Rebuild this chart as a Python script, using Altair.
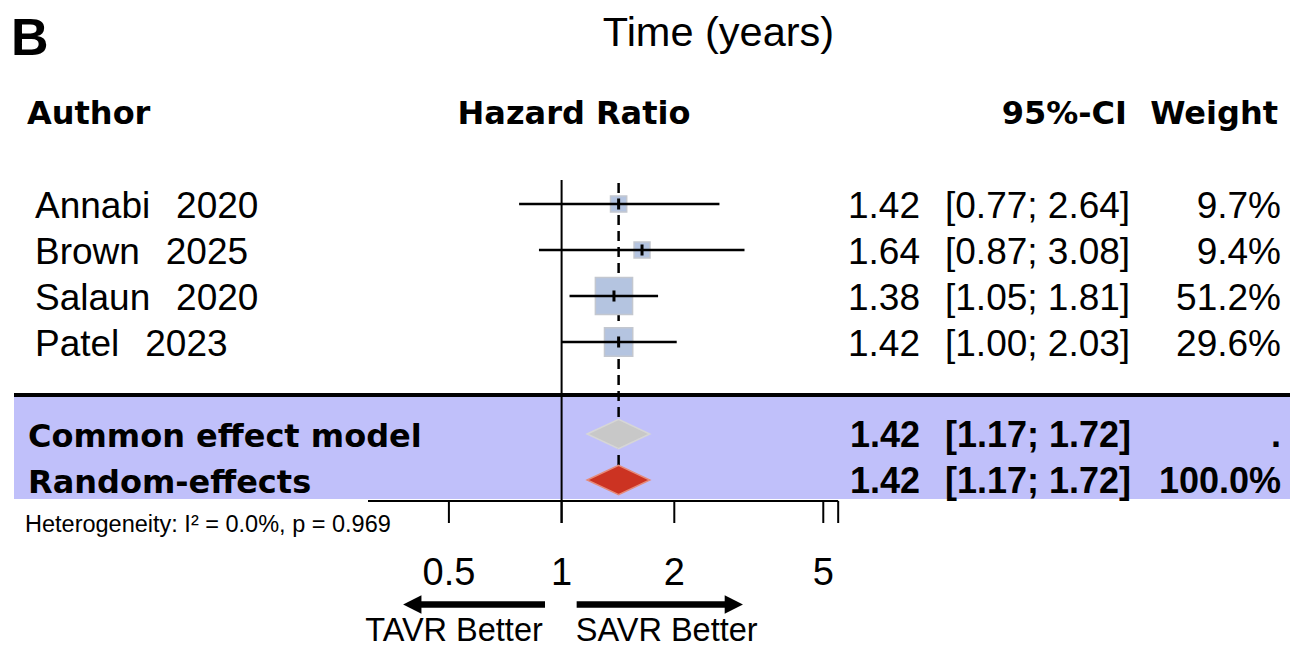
import altair as alt
import pandas as pd

# ---------------- data ----------------
authors = ["Annabi", "Brown", "Salaun", "Patel"]
years = ["2020", "2025", "2020", "2023"]
hr = [1.42, 1.64, 1.38, 1.42]
ci_lo = [0.77, 0.87, 1.05, 1.00]
ci_hi = [2.64, 3.08, 1.81, 2.03]
weights = [9.7, 9.4, 51.2, 29.6]

models = ["Common effect model", "Random-effects"]
model_hr = [1.42, 1.42]
model_lo = [1.17, 1.17]
model_hi = [1.72, 1.72]
model_weight = [".", "100.0%"]
model_fill = ["#c8c8c8", "#cc3322"]
model_stroke = ["#d6d6d6", "#e58a7a"]

tick_values = [0.5, 1, 2, 5]
tick_labels = ["0.5", "1", "2", "5"]
axis_ends = [0.304, 5.48]
heterogeneity = "Heterogeneity: I\u00b2 = 0.0%, p = 0.969"

# ---------------- layout ----------------
W, H = 1282, 640
X0, XS = 553.6, 112.7   # pixel of HR = 1, pixels per doubling
Y0, YS = 196.0, 46.0    # pixel of row 0, pixels per row
FONT = "Liberation Sans"
BOLDFONT = "DejaVu Sans"


def row(page_y):
    return (page_y - 8 - Y0) / YS


xs = alt.Scale(type="log", base=2, nice=False,
               domain=[2 ** (-X0 / XS), 2 ** ((W - X0) / XS)])
ys = alt.Scale(domain=[-Y0 / YS, (H - Y0) / YS], reverse=True, nice=False, zero=False)


def X(f):
    return alt.X(f"{f}:Q", scale=xs, axis=None)


def Y(f):
    return alt.Y(f"{f}:Q", scale=ys, axis=None)


studies = pd.DataFrame({
    "label": [f"{a}\u2002\u2009{y}" for a, y in zip(authors, years)],
    "hr": hr, "lo": ci_lo, "hi": ci_hi, "w": weights,
    "r": [0, 1, 2, 3],
})
studies["rt"] = studies["r"] - 0.12
studies["rb"] = studies["r"] + 0.12
studies["hr_txt"] = [f"{v:.2f}" for v in hr]
studies["ci_txt"] = [f"[{l:.2f}; {h:.2f}]" for l, h in zip(ci_lo, ci_hi)]
studies["w_txt"] = [f"{w:.1f}%" for w in weights]

summary = pd.DataFrame({
    "label": models, "hr": model_hr, "lo": model_lo, "hi": model_hi,
    "w_txt": model_weight, "r": [5, 6],
})
summary["hr_txt"] = [f"{v:.2f}" for v in model_hr]
summary["ci_txt"] = [f"[{l:.2f}; {h:.2f}]" for l, h in zip(model_lo, model_hi)]

layers = []

# shaded band behind pooled estimates
band = pd.DataFrame({"y0": [row(397)], "y1": [row(499)]})
layers.append(alt.Chart(band).mark_rect(color="#c0c0fa").encode(
    x=alt.value(6), x2=alt.value(W), y=Y("y0"), y2="y1"))

# separator line
sep = pd.DataFrame({"r": [row(395)]})
layers.append(alt.Chart(sep).mark_rule(color="black", strokeWidth=4).encode(
    x=alt.value(6), x2=alt.value(W), y=Y("r")))

# dashed summary line
dash = pd.DataFrame({"hr": [model_hr[0]], "a": [row(183)], "b": [row(495)]})
layers.append(alt.Chart(dash).mark_rule(color="black", strokeWidth=2.5, strokeDash=[10, 6]).encode(
    x=X("hr"), y=Y("a"), y2="b"))

# reference line at 1
ref = pd.DataFrame({"hr": [1.0], "a": [row(180)], "b": [row(523)]})
layers.append(alt.Chart(ref).mark_rule(color="black", strokeWidth=2).encode(
    x=X("hr"), y=Y("a"), y2="b"))

# custom axis line and ticks
axl = pd.DataFrame({"a": [axis_ends[0]], "b": [axis_ends[1]], "r": [row(501)]})
layers.append(alt.Chart(axl).mark_rule(color="black", strokeWidth=2).encode(
    x=X("a"), x2="b", y=Y("r")))
tk = pd.DataFrame({"v": tick_values + [axis_ends[1]], "a": row(501), "b": row(523)})
layers.append(alt.Chart(tk).mark_rule(color="black", strokeWidth=2).encode(
    x=X("v"), y=Y("a"), y2="b"))

# study squares, CIs and estimate ticks
layers.append(alt.Chart(studies).mark_square(fill="#b4c4e0", stroke="#c3c7cf", strokeWidth=1.5, opacity=1).encode(
    x=X("hr"), y=Y("r"),
    size=alt.Size("w:Q", scale=alt.Scale(domain=[0, 100], range=[0, 2700]), legend=None)))
layers.append(alt.Chart(studies).mark_rule(color="black", strokeWidth=2.5).encode(
    x=X("lo"), x2="hi", y=Y("r")))
layers.append(alt.Chart(studies).mark_rule(color="black", strokeWidth=3).encode(
    x=X("hr"), y=Y("rt"), y2="rb"))

# diamonds
for i, m in enumerate(models):
    r = summary["r"][i]
    d = pd.DataFrame({
        "x": [model_lo[i], model_hr[i], model_hi[i]],
        "yt": [r, r - 0.32, r],
        "yb": [r, r + 0.32, r],
    })
    layers.append(alt.Chart(d).mark_area(orient="vertical", fill=model_fill[i], stroke=model_stroke[i],
                                         strokeWidth=1.5, opacity=1).encode(
        x=X("x"), y=Y("yt"), y2="yb"))


# texts
def col_text(df, field, x_px, align, size, bold=False, font=FONT, dy=0):
    return alt.Chart(df).mark_text(
        align=align, baseline="alphabetic", font=font, fontSize=size,
        fontWeight="bold" if bold else "normal", dy=dy, color="black").encode(
        x=alt.value(x_px), y=Y("r"), text=f"{field}:N")


def one_text(s, x_px, page_y, align, size, bold=False, font=FONT):
    df = pd.DataFrame({"t": [s], "r": [row(page_y)]})
    return col_text(df, "t", x_px, align, size, bold, font)


layers.append(one_text("B", 3, 55, "left", 52, True))
layers.append(one_text("Time (years)", 710.5, 45.5, "center", 41.5))
layers.append(one_text("Author", 19, 123.5, "left", 32, True, BOLDFONT))
layers.append(one_text("Hazard Ratio", 566, 123.5, "center", 32, True, BOLDFONT))
layers.append(one_text("95%-CI", 1119, 123.5, "right", 32, True, BOLDFONT))
layers.append(one_text("Weight", 1270, 123.5, "right", 32, True, BOLDFONT))

layers.append(col_text(studies, "label", 27, "left", 37, dy=13.5))
layers.append(col_text(studies, "hr_txt", 912, "right", 37, dy=13.5))
layers.append(col_text(studies, "ci_txt", 937, "left", 37, dy=13.5))
layers.append(col_text(studies, "w_txt", 1273, "right", 37, dy=13.5))

layers.append(col_text(summary, "label", 20, "left", 32, True, BOLDFONT, dy=13))
layers.append(col_text(summary, "hr_txt", 912, "right", 36, True, dy=13))
layers.append(col_text(summary, "ci_txt", 937, "left", 36, True, dy=13))
layers.append(col_text(summary, "w_txt", 1273, "right", 36, True, dy=13))

layers.append(one_text(heterogeneity, 17, 532, "left", 23.5))

tl = pd.DataFrame({"v": tick_values, "lab": tick_labels, "r": row(585)})
layers.append(alt.Chart(tl).mark_text(align="center", baseline="alphabetic", font=FONT, fontSize=38,
                                      color="black").encode(x=X("v"), y=Y("r"), text="lab:N"))

# arrows
ar = row(604.5)
shafts = pd.DataFrame({"a": [0.903, 1.097], "b": [0.405, 2.86], "r": [ar, ar]})
layers.append(alt.Chart(shafts).mark_rule(color="black", strokeWidth=6.5, strokeCap="butt").encode(
    x=X("a"), x2="b", y=Y("r")))
heads = pd.DataFrame({"v": [0.3992], "r": [ar]})
layers.append(alt.Chart(heads).mark_point(shape="M1,-1L-1,0L1,1Z", filled=True, size=335, color="black",
                                          opacity=1).encode(x=X("v"), y=Y("r")))
heads2 = pd.DataFrame({"v": [2.884], "r": [ar]})
layers.append(alt.Chart(heads2).mark_point(shape="M-1,-1L1,0L-1,1Z", filled=True, size=335, color="black",
                                           opacity=1).encode(x=X("v"), y=Y("r")))

layers.append(one_text("TAVR Better", 446, 641, "center", 32.5))
layers.append(one_text("SAVR Better", 658.7, 641, "center", 32.5))

chart = alt.layer(*layers).properties(
    width=W, height=H, padding=0,
    autosize=alt.AutoSizeParams(type="none"),
    background="white",
).configure_view(strokeWidth=0)

chart.save("out.html", embed_options={"renderer": "svg", "actions": False})
